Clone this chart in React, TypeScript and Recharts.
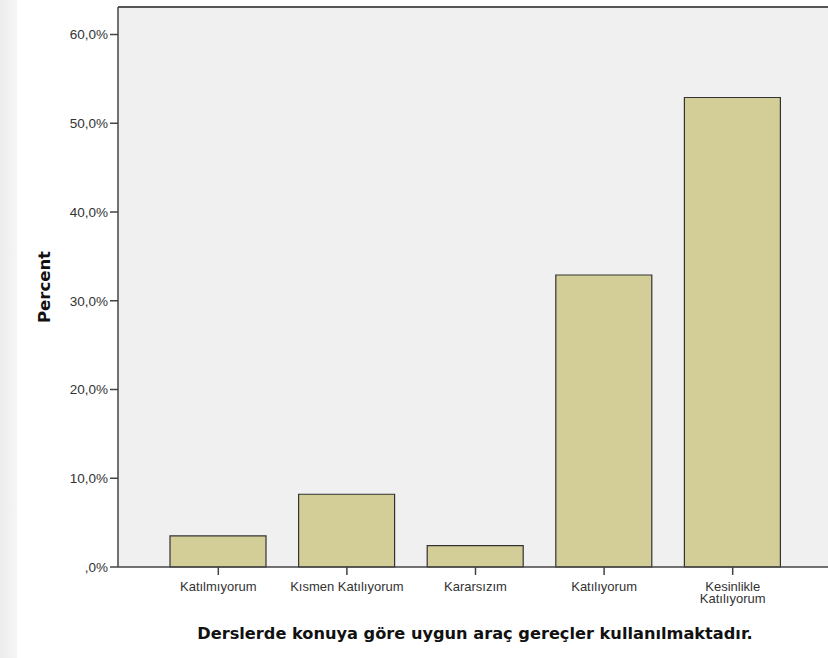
import React from "react";
import {
  BarChart,
  Bar,
  XAxis,
  YAxis,
  CartesianGrid,
  ReferenceLine,
} from "recharts";

const categories = [
  "Katılmıyorum",
  "Kısmen Katılıyorum",
  "Kararsızım",
  "Katılıyorum",
  "Kesinlikle Katılıyorum",
];
const percents = [3.5, 8.2, 2.4, 32.9, 52.9];
const yTicks = [0, 10, 20, 30, 40, 50, 60];
const tickLines: Record<string, string[]> = {
  "Kesinlikle Katılıyorum": ["Kesinlikle", "Katılıyorum"],
};
const Y_MAX = 63.1;
const xTitle = "Derslerde konuya göre uygun araç gereçler kullanılmaktadır.";
const yTitle = "Percent";

const data = categories.map((c, i) => ({ name: c, value: percents[i] }));

const fmt = (v: number) =>
  v === 0 ? ",0%" : v.toFixed(1).replace(".", ",") + "%";

const XTick = (props: any) => {
  const { x, y, payload } = props;
  const lines = tickLines[payload.value] || [payload.value];
  return (
    <text
      x={x}
      y={y + 14}
      textAnchor="middle"
      fontFamily="'Liberation Sans', Arial, sans-serif"
      fontSize={13}
      fill="#333"
    >
      {lines.map((l: string, i: number) => (
        <tspan key={i} x={x} dy={i === 0 ? 0 : 12}>
          {l}
        </tspan>
      ))}
    </text>
  );
};

export default function App() {
  return (
    <div
      style={{
        position: "absolute",
        left: 0,
        top: 0,
        width: 828,
        height: 658,
        background: "#fff",
        overflow: "hidden",
      }}
    >
      <div
        style={{
          position: "absolute",
          left: 0,
          top: 0,
          width: 17,
          height: 658,
          background: "linear-gradient(to right, #ececec, #f6f6f6)",
        }}
      />
      <div style={{ position: "absolute", left: 0, top: 0 }}>
        <BarChart
          width={828}
          height={658}
          data={data}
          margin={{ top: 7, right: 0, bottom: 0, left: 0 }}
          barSize={96}
        >
          <CartesianGrid
            fill="#F0F0F0"
            horizontal={false}
            vertical={false}
            stroke="none"
          />
          <XAxis
            dataKey="name"
            height={91}
            padding={{ left: 36, right: 31 }}
            axisLine={{ stroke: "#444", strokeWidth: 1.5 }}
            tickLine={{ stroke: "#444", strokeWidth: 1.5 }}
            tickSize={8}
            tick={<XTick />}
            interval={0}
            label={{
              content: (p: any) => {
                const vb = p.viewBox;
                return (
                  <text
                    x={vb.x + vb.width / 2 + 2}
                    y={639}
                    textAnchor="middle"
                    fontFamily="'DejaVu Sans', Verdana, sans-serif"
                    fontWeight="bold"
                    fontSize={16.2}
                    fill="#111"
                  >
                    {xTitle}
                  </text>
                );
              },
            }}
          />
          <YAxis
            width={118}
            domain={[0, Y_MAX]}
            ticks={yTicks}
            tickFormatter={fmt}
            axisLine={{ stroke: "#444", strokeWidth: 1.5 }}
            tickLine={{ stroke: "#444", strokeWidth: 1.5 }}
            tickSize={8}
            tickMargin={2}
            tick={{
              fontFamily: "'Liberation Sans', Arial, sans-serif",
              fontSize: 13.5,
              fill: "#333",
            }}
            label={{
              content: (p: any) => {
                const vb = p.viewBox;
                const cy = vb.y + vb.height / 2;
                return (
                  <text
                    x={44}
                    y={cy}
                    transform={`rotate(-90 44 ${cy})`}
                    textAnchor="middle"
                    dominantBaseline="central"
                    fontFamily="'DejaVu Sans', Verdana, sans-serif"
                    fontWeight="bold"
                    fontSize={16.5}
                    fill="#111"
                  >
                    {yTitle}
                  </text>
                );
              },
            }}
          />
          <ReferenceLine y={Y_MAX} stroke="#555" strokeWidth={2} />
          <Bar
            dataKey="value"
            fill="#D3CE98"
            stroke="#333"
            strokeWidth={1.2}
            isAnimationActive={false}
          />
        </BarChart>
      </div>
    </div>
  );
}
